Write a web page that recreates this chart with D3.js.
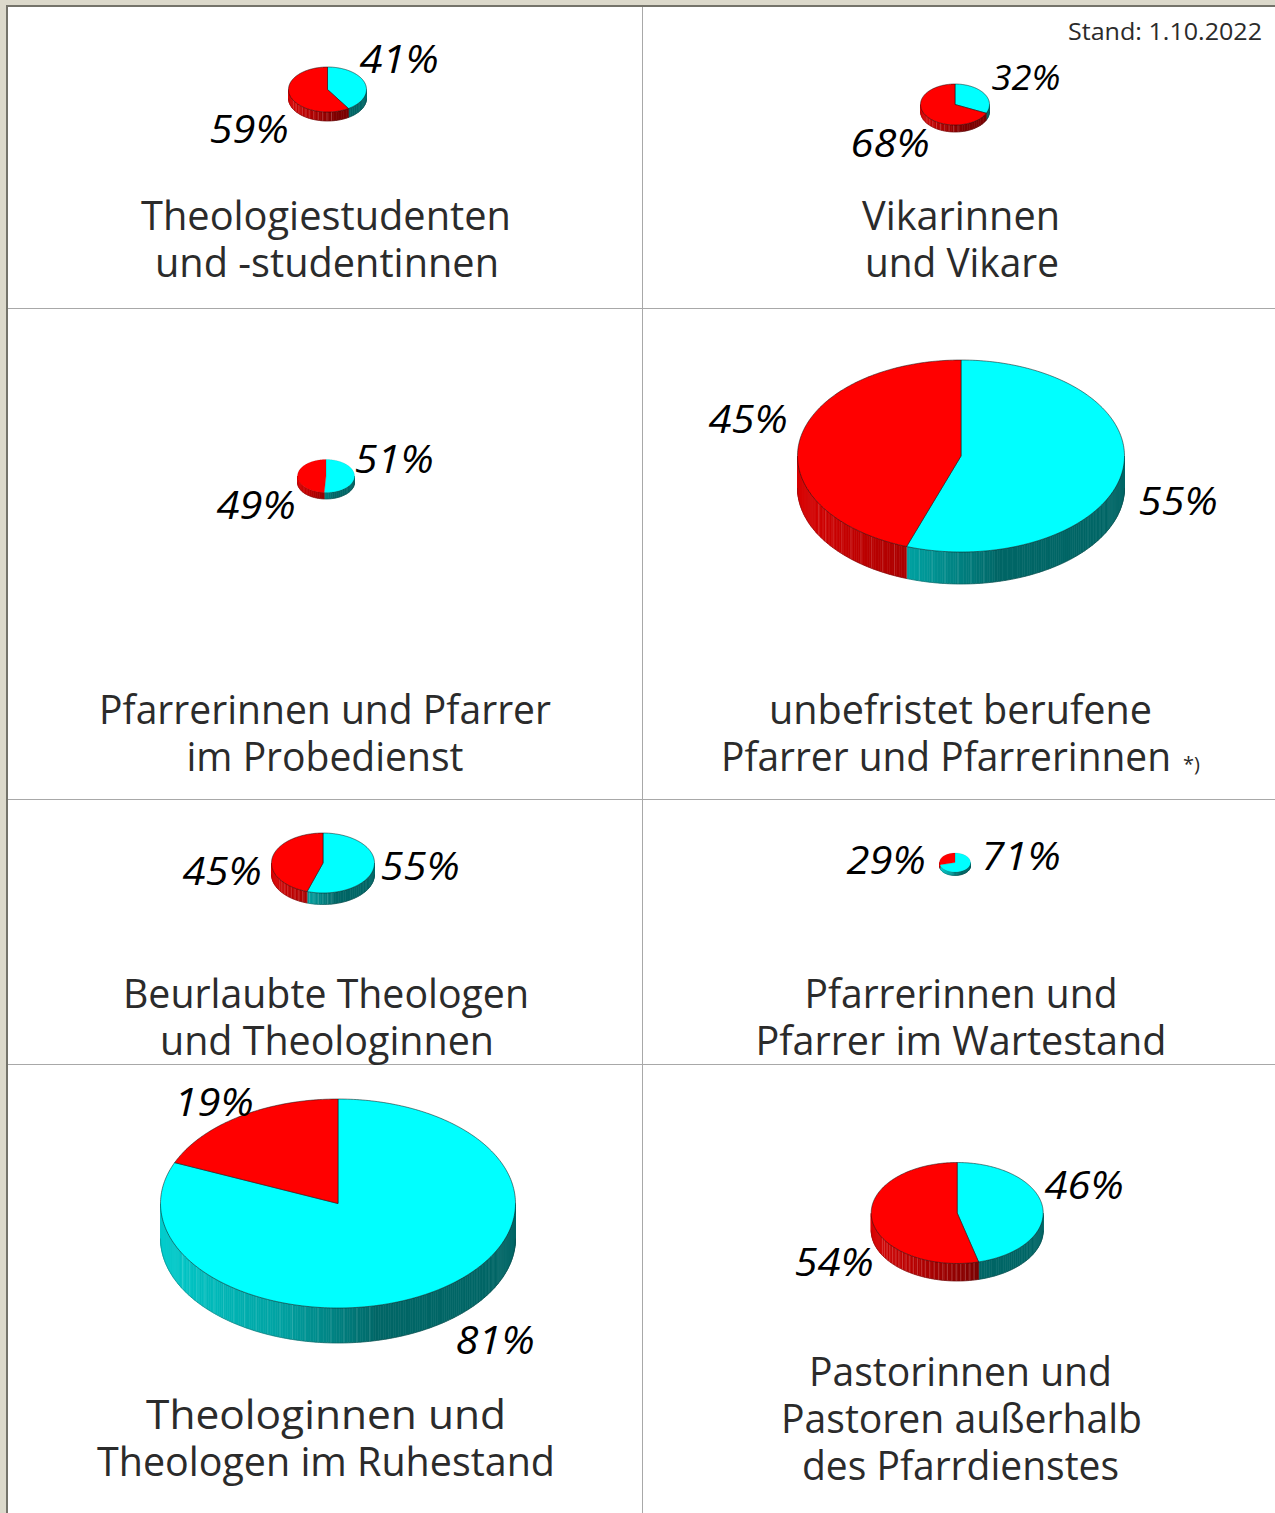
<!DOCTYPE html>
<html><head><meta charset="utf-8">
<script src="https://cdnjs.cloudflare.com/ajax/libs/d3/7.8.5/d3.min.js"></script>
<style>html,body{margin:0;padding:0;background:#fff}svg{display:block}</style>
</head><body><svg id="c" width="1275" height="1513"></svg>
<script>
const titles = [
  ["Theologiestudenten","und -studentinnen"],
  ["Vikarinnen","und Vikare"],
  ["Pfarrerinnen und Pfarrer","im Probedienst"],
  ["unbefristet berufene","Pfarrer und Pfarrerinnen"],
  ["Beurlaubte Theologen","und Theologinnen"],
  ["Pfarrerinnen und","Pfarrer im Wartestand"],
  ["Theologinnen und","Theologen im Ruhestand"],
  ["Pastorinnen und","Pastoren außerhalb","des Pfarrdienstes"]
];
const cyanShare = [41,32,51,55.4,55,71,81.4,46];
const redShare  = [59,68,49,44.6,45,29,18.6,54];
const standNote = "Stand: 1.10.2022";
const footnote = "*)";

// layout (separate from data)
const pieBoxes = [
  {cx:327.5,cy:89.5,rx:39,ry:22.5,d:9},
  {cx:955,cy:104.5,rx:34.5,ry:20.5,d:7},
  {cx:326,cy:476,rx:28.5,ry:16.5,d:6.5},
  {cx:961,cy:456,rx:163.5,ry:96,d:32},
  {cx:323,cy:863,rx:51.5,ry:30,d:11.5},
  {cx:955,cy:862.5,rx:15.5,ry:9.5,d:3.5},
  {cx:338,cy:1203.5,rx:177.5,ry:104.5,d:35},
  {cx:957.2,cy:1213,rx:86,ry:50.5,d:17.5}
];
const cyanLabelPos = [[399,73],[1026,90,35,69],[394,473],[1178,515],[420,880],[1021,870],[495,1354],[1084,1199]];
const redLabelPos  = [[249,143],[890,157],[256,519],[748,433],[222,885],[886,874],[214,1116],[834,1276]];
const titleY = [[230,277],[230,277],[724,771],[724,771],[1008,1055],[1008,1055],[1429,1476],[1386,1433,1480]];
const titleX = [[326,327],[961,962],[325,325],[960.5,946],[326,327],[961,961],[326,326],[960.5,961.5,960.5]];
const titleW = [[370,344],[198,194],[452,277],[383,450],[406,334],[313,411],[360,458],[303,361,317]];

const svg = d3.select("#c");
const sansFont = "'Open Sans','Noto Sans',sans-serif";

// page background and frame
svg.append("rect").attr("width",1275).attr("height",1513).attr("fill","#dcd9cb");
svg.append("rect").attr("x",7).attr("y",6).attr("width",1268).attr("height",1507).attr("fill","#fff");
svg.append("path").attr("d","M7,1513V6H1275").attr("fill","none").attr("stroke","#74736a").attr("stroke-width",2);
svg.append("path").attr("d",`M642.5,7V1513M8,308.5H1275M8,799.5H1275M8,1064.5H1275`)
  .attr("fill","none").attr("stroke","#a8a8a8").attr("stroke-width",1);

const pieGen = d3.pie().sort(null).startAngle(0).endAngle(2*Math.PI);
// side wall shade: brightest at the far left, darkening towards the centre, then flat
const flatFrom = 0.2;
const sideRamp = {
  cyan: d3.scaleLinear().domain([-1,-0.3,flatFrom]).range(["#00cccc","#00a0a0","#006a6a"]).clamp(true),
  red:  d3.scaleLinear().domain([-1,-0.3,flatFrom]).range(["#d80000","#a80000","#800000"]).clamp(true)
};
const flat = {cyan:"#006666", red:"#7c0000"};
const fills = {cyan:"#00ffff", red:"#ff0000"};

pieBoxes.forEach((b,i)=>{
  const g = svg.append("g");
  const arcs = pieGen([cyanShare[i],redShare[i]]);
  const keys = ["cyan","red"];
  const px = a => b.cx + b.rx*Math.sin(a);
  const py = a => b.cy - b.ry*Math.cos(a);
  // side wall: front half only, drawn in slim facets
  const step = Math.PI/Math.max(40, Math.round(b.rx*1.2));
  const lineGap = b.rx>100 ? 13 : 4.5;
  arcs.forEach((arc,k)=>{
    const a0 = Math.max(arc.startAngle, Math.PI/2), a1 = Math.min(arc.endAngle, 3*Math.PI/2);
    if (a1<=a0) return;
    const as = d3.range(a0,a1,step).concat([a1]);
    for (let j=0;j<as.length-1;j++){
      const s=as[j], e=as[j+1], nx=Math.sin((s+e)/2);
      const col = nx>flatFrom ? flat[keys[k]] : sideRamp[keys[k]](nx);
      g.append("path")
       .attr("d",`M${px(s)},${py(s)}L${px(e)},${py(e)}L${px(e)},${py(e)+b.d}L${px(s)},${py(s)+b.d}Z`)
       .attr("fill",col).attr("stroke",col).attr("stroke-width",0.6);
    }
    // facet hairlines on the shaded part
    if (b.rx>30) d3.range(a0,a1,lineGap/b.rx).forEach(a=>{
      if (Math.sin(a)<flatFrom && Math.sin(a)>-0.88)
        g.append("line").attr("x1",px(a)).attr("x2",px(a)).attr("y1",py(a)).attr("y2",py(a)+b.d)
         .attr("stroke","#ffffff").attr("stroke-opacity",b.rx>100?0.2:0.28).attr("stroke-width",0.7);
    });
  });
  // outline of the side wall
  const outline = d3.range(Math.PI/2,3*Math.PI/2+0.001,Math.PI/90);
  g.append("path").attr("d",d3.line()(outline.map(a=>[px(a),py(a)+b.d])))
   .attr("fill","none").attr("stroke","#222").attr("stroke-width",0.4).attr("stroke-opacity",0.6);
  // top face
  arcs.forEach((arc,k)=>{
    const n = Math.ceil((arc.endAngle-arc.startAngle)/(Math.PI/180));
    const pts = d3.range(n+1).map(q=>{const a=arc.startAngle+(arc.endAngle-arc.startAngle)*q/n;return [px(a),py(a)];});
    g.append("path").attr("d",`M${b.cx},${b.cy}L`+pts.map(p=>p.join(",")).join("L")+"Z")
     .attr("fill",fills[keys[k]]).attr("stroke","#111").attr("stroke-opacity",b.rx>30?0.75:0.25)
     .attr("stroke-width",b.rx>30?0.7:0.4).attr("stroke-linejoin","round");
  });
  // percent labels
  [[cyanShare[i],cyanLabelPos[i]],[redShare[i],redLabelPos[i]]].forEach(([v,p])=>{
    svg.append("text").attr("x",p[0]).attr("y",p[1]).attr("text-anchor","middle")
      .attr("font-family","'Open Sans',sans-serif").attr("font-style","italic")
      .attr("font-size",p[2]||39).attr("textLength",p[3]||79).attr("lengthAdjust","spacingAndGlyphs")
      .attr("fill","#000").text(Math.round(v)+"%");
  });
  // titles
  titles[i].forEach((t,j)=>{
    svg.append("text").attr("x",titleX[i][j]).attr("y",titleY[i][j]).attr("text-anchor","middle")
      .attr("font-family",sansFont).attr("font-size",39.5).attr("fill","#2b2b2b")
      .attr("textLength",titleW[i][j]).attr("lengthAdjust","spacingAndGlyphs").text(t);
  });
});
svg.append("text").attr("x",1262).attr("y",40).attr("text-anchor","end")
  .attr("font-family",sansFont).attr("font-size",24.5).attr("fill","#2b2b2b")
  .attr("textLength",194).attr("lengthAdjust","spacingAndGlyphs").text(standNote);
svg.append("text").attr("x",1183).attr("y",771)
  .attr("font-family",sansFont).attr("font-size",20).attr("fill","#2b2b2b").text(footnote);
</script></body></html>
